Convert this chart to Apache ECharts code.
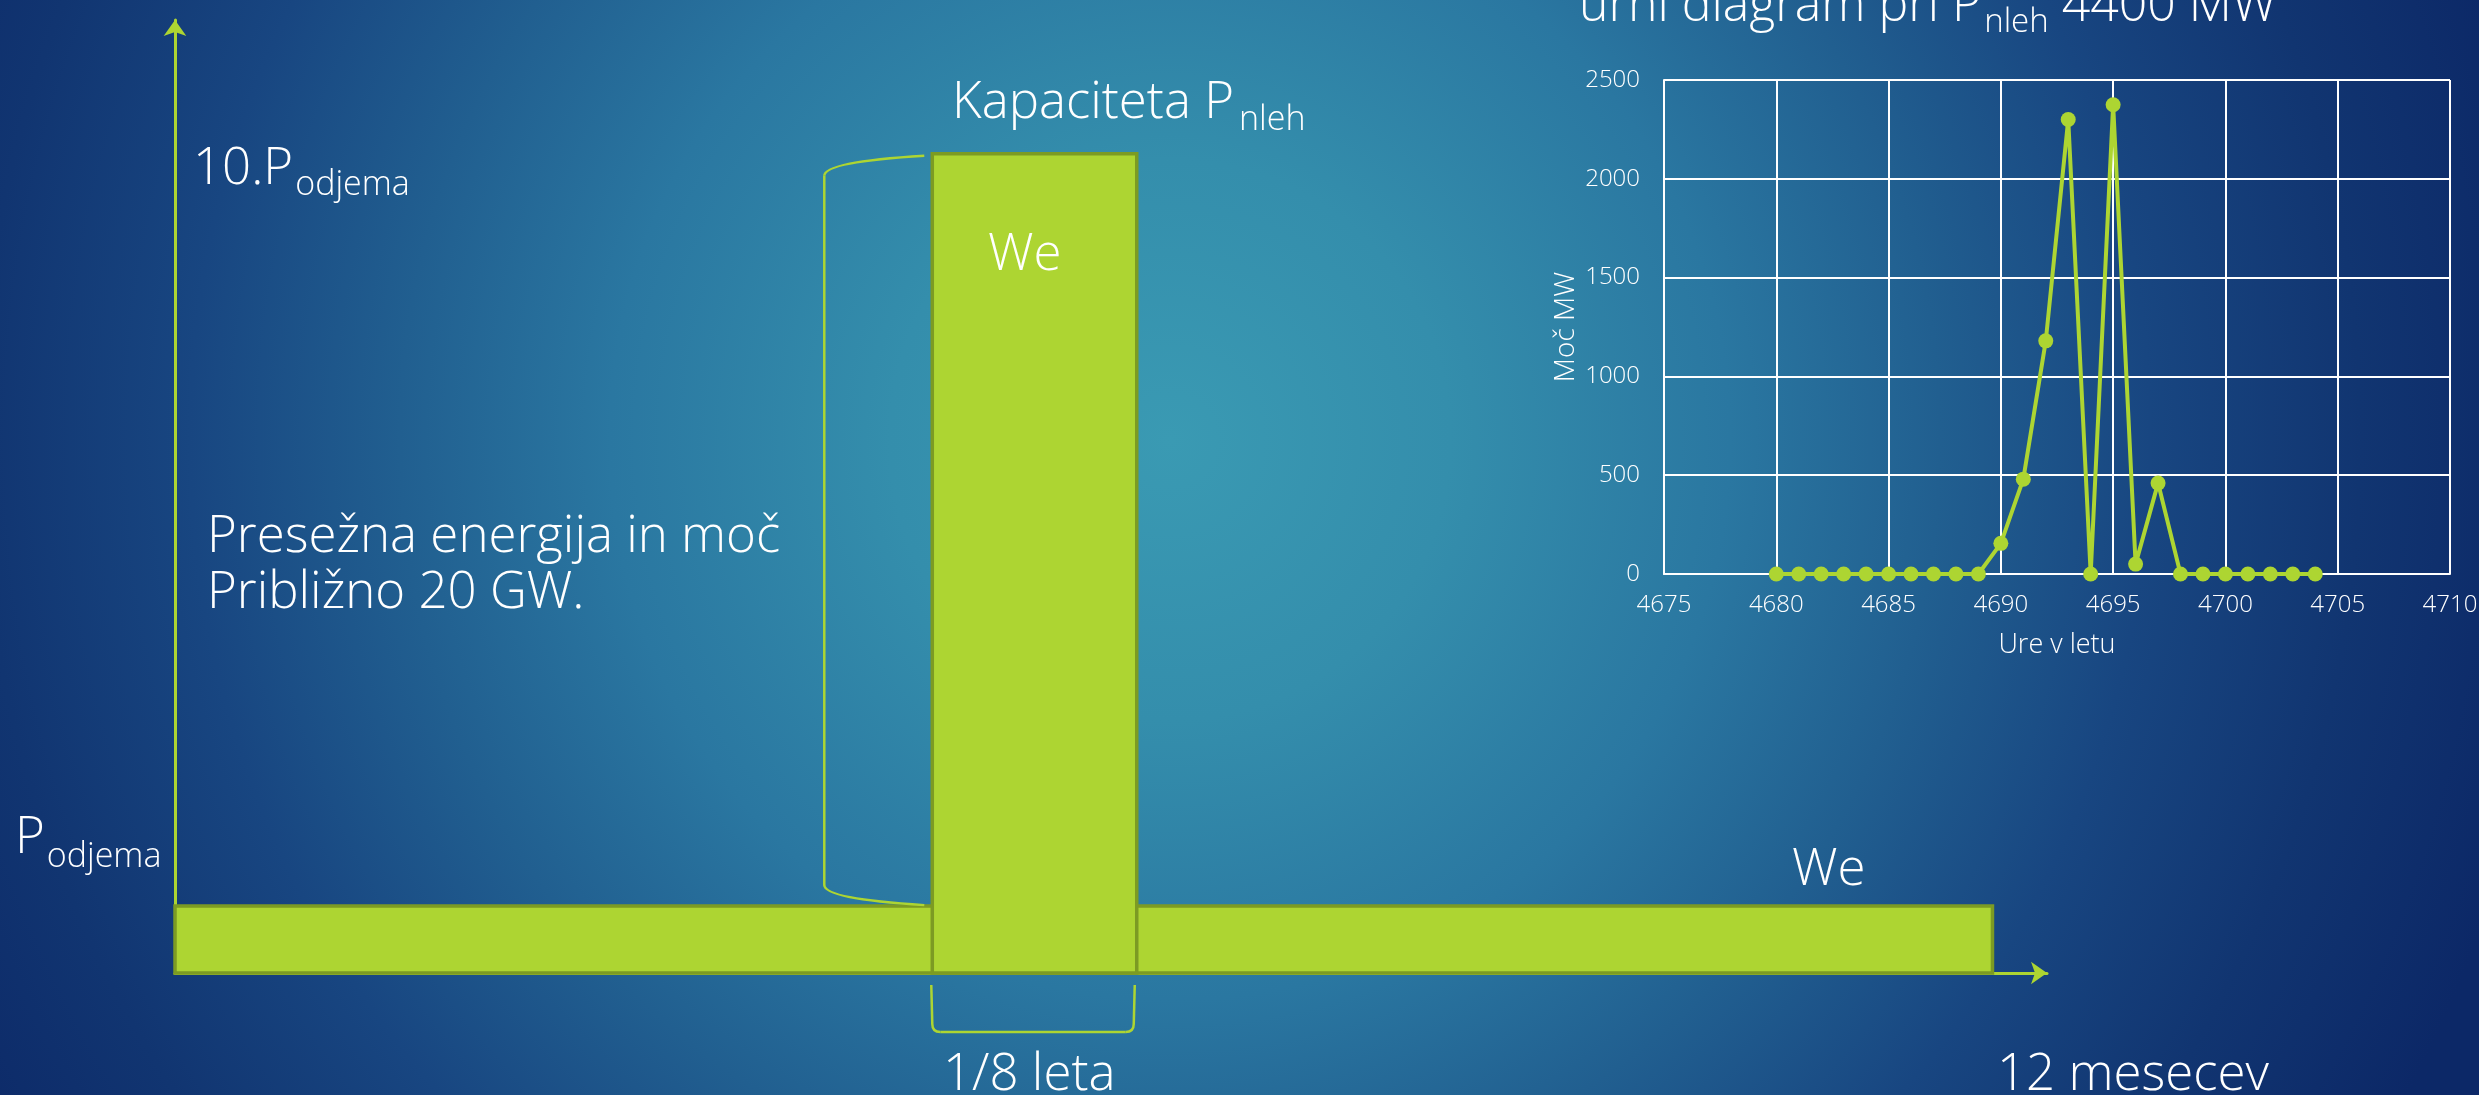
<!DOCTYPE html>
<html>
<head>
<meta charset="utf-8">
<script src="https://cdn.jsdelivr.net/npm/echarts@6/dist/echarts.min.js"></script>
<style>
  html, body { margin: 0; padding: 0; background: #0c2a67; }
  #chart { width: 2479px; height: 1095px; }
</style>
</head>
<body>
<div id="chart"></div>
<script>
// ---- Schematic: consumption band vs. short surplus block ----
// months on the horizontal axis, multiples of P_odjema on the vertical one
const blockStart = [0, 5.0];      // month where each block starts
const blockEnd   = [12, 6.35];    // month where each block ends
const blockLevel = [1, 10];       // height in units of P_odjema
const monthAxisMax = 12.36;
const levelAxisMin = 0.2;
const levelAxisMax = 11.6;

// ---- Hourly surplus power around hour 4690 ----
const hours = [4680, 4681, 4682, 4683, 4684, 4685, 4686, 4687, 4688, 4689,
               4690, 4691, 4692, 4693, 4694, 4695, 4696, 4697, 4698, 4699,
               4700, 4701, 4702, 4703, 4704];
const surplusMW = [0, 0, 0, 0, 0, 0, 0, 0, 0, 0,
                   155, 480, 1180, 2300, 0, 2375, 50, 460, 0, 0,
                   0, 0, 0, 0, 0];
const hourTicks = { min: 4675, max: 4710, step: 5 };
const mwTicks = { min: 0, max: 2500, step: 500 };

const GREEN = '#ADD532';
const GREEN_DARK = '#7C9B23';
const WHITE = '#FFFFFF';
const FONT = '"Open Sans", "DejaVu Sans", sans-serif';
const WEIGHT = 300;

// text helpers: place text by its alphabetic baseline, subscripts after measured width
const mctx = document.createElement('canvas').getContext('2d');
function setFont(size) { mctx.font = WEIGHT + ' ' + size + 'px ' + FONT; }
function textWidth(s, size) {
  setFont(size);
  return mctx.measureText(s).width;
}
function baselineDrop(size) {
  setFont(size);
  mctx.textBaseline = 'alphabetic';
  const a = mctx.measureText('H').actualBoundingBoxAscent;
  mctx.textBaseline = 'middle';
  const m = mctx.measureText('H').actualBoundingBoxAscent;
  mctx.textBaseline = 'alphabetic';
  const d = a - m;
  return (isFinite(d) && d > 0) ? d : size * 0.3;
}
function word(x, baseline, s, size) {
  return {
    type: 'text', x: x, y: baseline - baselineDrop(size), z: 100, silent: true,
    style: {
      text: s, fill: WHITE, fontSize: size, fontFamily: FONT, fontWeight: WEIGHT,
      align: 'left', verticalAlign: 'middle'
    }
  };
}
function withSub(x, baseline, main, sub, tail, size, subSize, drop, gap) {
  const els = [word(x, baseline, main, size)];
  const xs = x + textWidth(main, size) + gap;
  els.push(word(xs, baseline + drop, sub, subSize));
  if (tail) els.push(word(xs + textWidth(sub, subSize), baseline, tail, size));
  return els;
}

const T = 51, S = 34;
const texts = [].concat(
  withSub(1579, 21, 'urni diagram pri P', 'nleh', ' 4400 MW', 50, 33, 11, 3),
  withSub(952, 118, 'Kapaciteta P', 'nleh', null, T, S, 12, 5),
  withSub(193, 184, '10.P', 'odjema', null, T, S, 11, 2),
  withSub(15, 853, 'P', 'odjema', null, T, S, 14, 2),
  [
    word(988, 270, 'We', T),
    word(207, 552, 'Presežna energija in moč', T),
    word(207, 608, 'Približno 20 GW.', T),
    word(1792, 885, 'We', T),
    word(943, 1090, '1/8 leta', T),
    word(1997, 1090, '12 mesecev', T)
  ]
);

function blockItem(params, api) {
  const cs = params.coordSys;
  const bottom = cs.y + cs.height;
  const tl = api.coord([api.value(0), api.value(2)]);
  const br = api.coord([api.value(1), api.value(2)]);
  return {
    type: 'rect',
    shape: { x: tl[0], y: tl[1], width: br[0] - tl[0], height: bottom - tl[1] },
    style: { fill: GREEN, stroke: GREEN_DARK, lineWidth: 3.5 }
  };
}

function bracketItem(params, api) {
  const cs = params.coordSys;
  const axisY = cs.y + cs.height;
  const x0 = api.coord([api.value(0), api.value(3)])[0];
  const x1 = api.coord([api.value(1), api.value(3)])[0];
  const yT = api.coord([api.value(0), api.value(3)])[1] + 2;
  const yB = api.coord([api.value(0), api.value(2)])[1] - 1;
  const st = { stroke: GREEN, lineWidth: 2.5, fill: null };
  const xb = x0 - 108, xe = x0 - 8;
  const l = x0 - 1, r = x1 - 2, t = axisY + 12, b = axisY + 59;
  return {
    type: 'group',
    children: [
      // brace along the surplus height
      { type: 'bezierCurve', shape: { x1: xe, y1: yT, cpx1: xb, cpy1: yT + 6, x2: xb, y2: yT + 20 }, style: st },
      { type: 'line', shape: { x1: xb, y1: yT + 20, x2: xb, y2: yB - 20 }, style: st },
      { type: 'bezierCurve', shape: { x1: xb, y1: yB - 20, cpx1: xb, cpy1: yB - 6, x2: xe, y2: yB }, style: st },
      // bracket under the duration of the block
      { type: 'line', shape: { x1: l, y1: t, x2: l + 1, y2: b - 8 }, style: st },
      { type: 'bezierCurve', shape: { x1: l + 1, y1: b - 8, cpx1: l + 1, cpy1: b, x2: l + 9, y2: b }, style: st },
      { type: 'line', shape: { x1: l + 9, y1: b, x2: r - 9, y2: b }, style: st },
      { type: 'bezierCurve', shape: { x1: r - 9, y1: b, cpx1: r - 1, cpy1: b, x2: r - 1, y2: b - 8 }, style: st },
      { type: 'line', shape: { x1: r - 1, y1: b - 8, x2: r, y2: t }, style: st }
    ]
  };
}

const plain = (v) => String(v);

const chart = echarts.init(document.getElementById('chart'), null, { renderer: 'canvas' });
chart.setOption({
  animation: false,
  backgroundColor: {
    type: 'radial', x: 1170, y: 440, r: 1400, global: true,
    colorStops: [
      { offset: 0, color: '#3A9AB3' },
      { offset: 0.2, color: '#348EAC' },
      { offset: 0.4, color: '#2A77A1' },
      { offset: 0.55, color: '#215F90' },
      { offset: 0.7, color: '#184681' },
      { offset: 0.85, color: '#113571' },
      { offset: 1, color: '#0C2867' }
    ]
  },
  textStyle: { fontFamily: FONT, fontWeight: WEIGHT },
  grid: [
    { left: 175, top: 20, width: 1872, height: 953, outerBoundsMode: 'none', containLabel: false },
    { left: 1664, top: 80, width: 786, height: 494, outerBoundsMode: 'none', containLabel: false }
  ],
  xAxis: [
    {
      gridIndex: 0, type: 'value', min: 0, max: monthAxisMax,
      axisLine: { show: true, symbol: ['none', 'arrow'], symbolSize: [17, 16], lineStyle: { color: GREEN, width: 3 } },
      axisTick: { show: false }, axisLabel: { show: false }, splitLine: { show: false }
    },
    {
      gridIndex: 1, type: 'value', min: hourTicks.min, max: hourTicks.max, interval: hourTicks.step,
      name: 'Ure v letu', nameLocation: 'middle', nameGap: 58,
      nameTextStyle: { color: WHITE, fontSize: 27, fontFamily: FONT, fontWeight: WEIGHT },
      axisLine: { show: true, lineStyle: { color: WHITE, width: 2 } },
      axisTick: { show: false },
      axisLabel: { color: WHITE, fontSize: 24, fontFamily: FONT, fontWeight: WEIGHT, margin: 19, formatter: plain },
      splitLine: { show: true, lineStyle: { color: WHITE, width: 2 } }
    }
  ],
  yAxis: [
    {
      gridIndex: 0, type: 'value', min: levelAxisMin, max: levelAxisMax,
      axisLine: { show: true, symbol: ['none', 'arrow'], symbolSize: [17, 16], lineStyle: { color: GREEN, width: 3 } },
      axisTick: { show: false }, axisLabel: { show: false }, splitLine: { show: false }
    },
    {
      gridIndex: 1, type: 'value', min: mwTicks.min, max: mwTicks.max, interval: mwTicks.step,
      name: 'Moč MW', nameLocation: 'middle', nameRotate: 90, nameGap: 84,
      nameTextStyle: { color: WHITE, fontSize: 28, fontFamily: FONT, fontWeight: WEIGHT },
      axisLine: { show: true, lineStyle: { color: WHITE, width: 2 } },
      axisTick: { show: false },
      axisLabel: { color: WHITE, fontSize: 24, fontFamily: FONT, fontWeight: WEIGHT, margin: 24, formatter: plain },
      splitLine: { show: true, lineStyle: { color: WHITE, width: 2 } }
    }
  ],
  series: [
    {
      type: 'custom', name: 'Bloki', xAxisIndex: 0, yAxisIndex: 0, z: 2, clip: false,
      renderItem: blockItem,
      encode: { x: [0, 1], y: 2 },
      data: blockStart.map((s, i) => [s, blockEnd[i], blockLevel[i]])
    },
    {
      type: 'custom', name: 'Oznake', xAxisIndex: 0, yAxisIndex: 0, z: 3, clip: false,
      renderItem: bracketItem,
      encode: { x: [0, 1], y: [2, 3] },
      data: [[blockStart[1], blockEnd[1], blockLevel[0], blockLevel[1]]]
    },
    {
      type: 'line', name: 'Presežek', xAxisIndex: 1, yAxisIndex: 1, z: 5,
      data: hours.map((h, i) => [h, surplusMW[i]]),
      symbol: 'circle', symbolSize: 15, showAllSymbol: true,
      lineStyle: { color: GREEN, width: 4 },
      itemStyle: { color: GREEN }
    }
  ],
  graphic: { elements: texts }
});
</script>
</body>
</html>
